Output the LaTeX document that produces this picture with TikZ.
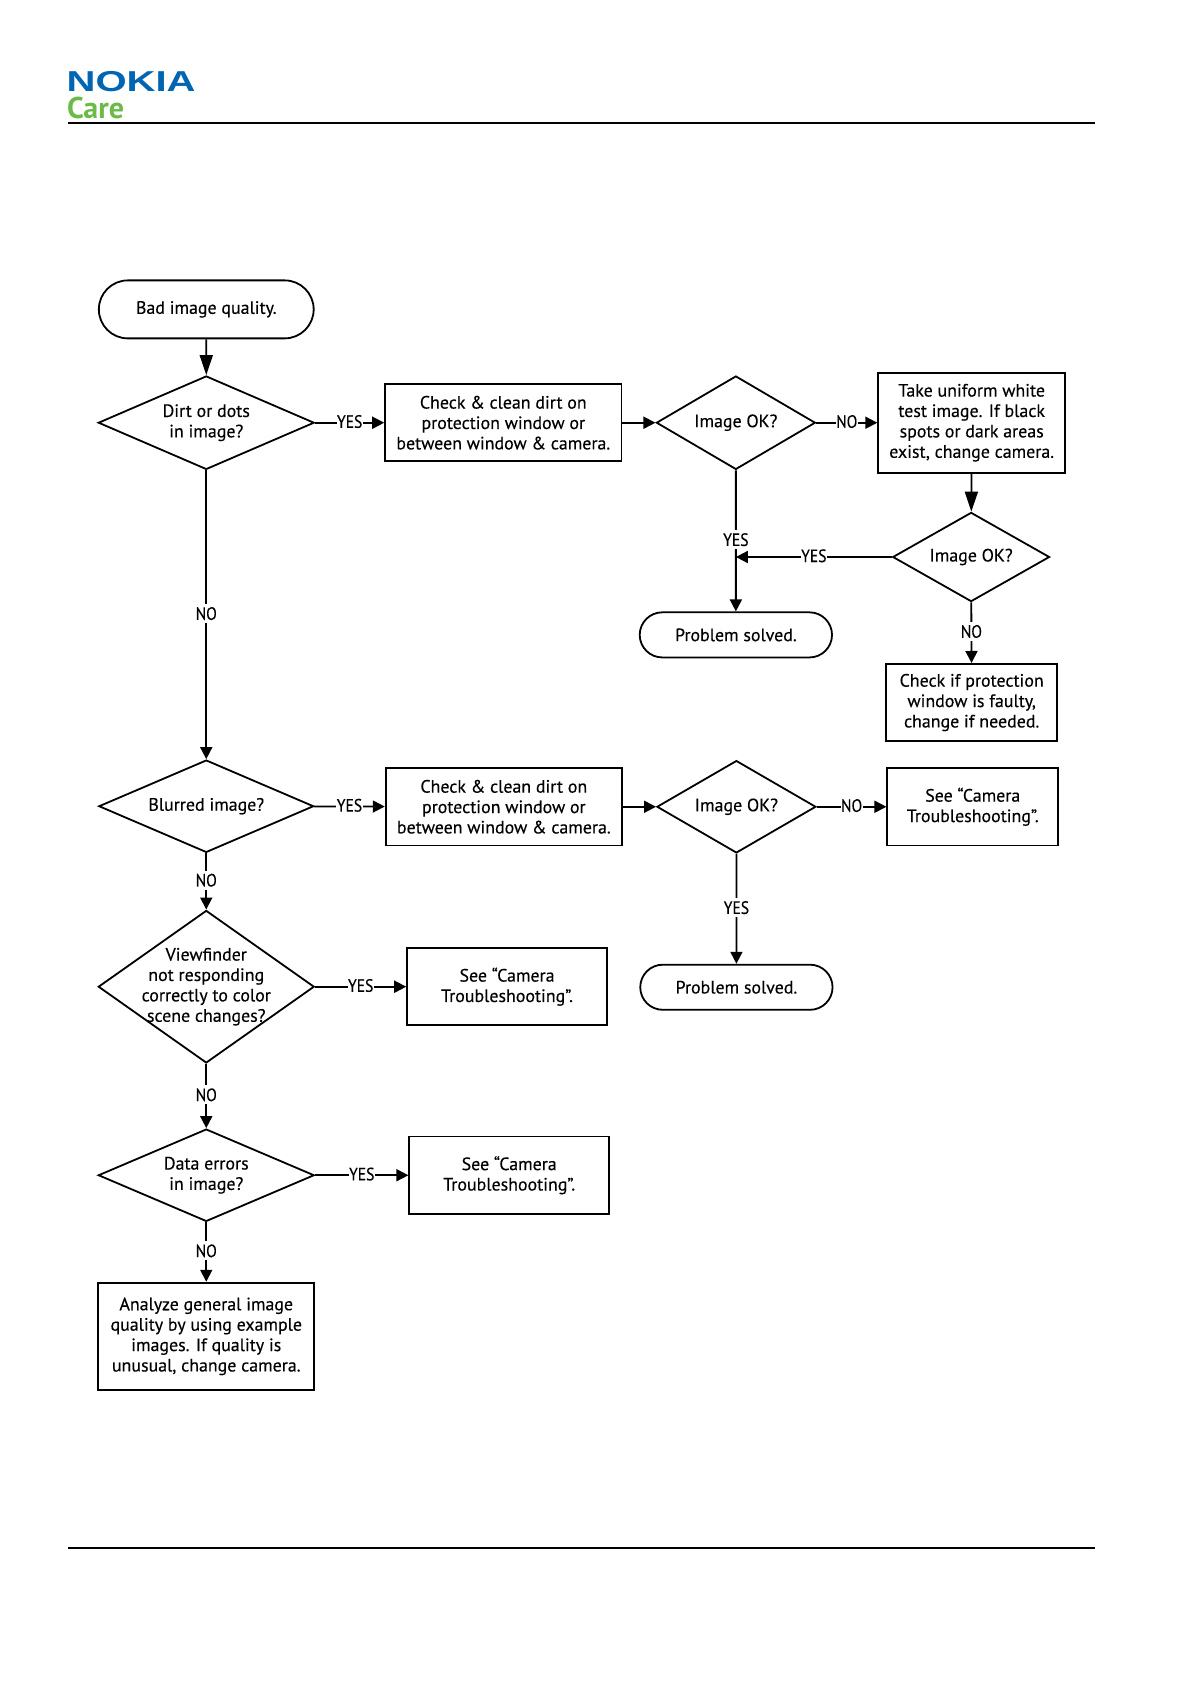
\documentclass[tikz,border=0pt]{standalone}
\usepackage{fontspec}
\setmainfont{PT Sans}[FakeBold=0.3]
\newfontfamily\logofont{Liberation Sans}
\newfontfamily\carefont{PT Sans}
\usetikzlibrary{arrows.meta,shapes.geometric,shapes.misc}
\definecolor{nokiablue}{RGB}{0,101,179}
\definecolor{caregreen}{RGB}{108,187,73}
\def\pxunit{0.5371pt}
\tikzstyle{flowtext}=[font=\fontsize{8.95}{10.2}\selectfont,align=center,inner sep=0pt]
\tikzstyle{terminal}=[flowtext,draw,line width=0.9pt,rounded rectangle]
\tikzstyle{decision}=[flowtext,draw,line width=0.9pt,diamond,inner sep=-8pt]
\tikzstyle{process}=[flowtext,draw,line width=0.9pt,rectangle]
\tikzstyle{edge}=[draw,line width=0.9pt,-{Triangle[length=6pt,width=6pt]}]
\tikzstyle{long edge}=[edge,-{Triangle[length=10pt,width=6.5pt]}]
\tikzstyle{answer}=[flowtext,fill=white,inner xsep=0.3pt,inner ysep=1.5pt,xscale=0.87,yshift=0.6pt]
\tikzstyle{rule}=[draw,line width=0.9pt]
\begin{document}
\begin{tikzpicture}[x=\pxunit,y=-\pxunit]
    \useasboundingbox (0,0) rectangle (1108.7,1567.6);
    % Header and footer
    \node[anchor=west,inner sep=0pt,text=nokiablue,xscale=1.39] (logo) at (61.5,75.5)
        {\logofont\bfseries\fontsize{14.4}{14.4}\selectfont NOKIA};
    \node[anchor=west,inner sep=0pt,text=caregreen] (care) at (62,100.5)
        {\carefont\bfseries\fontsize{15}{15}\selectfont Care};
    \coordinate (topleft) at (63,114.5);
    \coordinate (topright) at (1019,114.5);
    \coordinate (footleft) at (63,1441);
    \coordinate (footright) at (1019,1441);
    \path[rule] (topleft) -- (topright);
    \path[rule] (footleft) -- (footright);

    % First we draw the vertices
    \foreach \pos/\name/\w/\h/\txt in {
        {(192,288)/start/200/54/Bad image quality.},
        {(685,591)/solvedA/179/42/Problem solved.},
        {(685.5,919)/solvedB/179/42/Problem solved.}}
        \node[terminal,minimum width=\w*\pxunit,minimum height=\h*\pxunit] (\name) at \pos {\txt};

    \foreach \pos/\name/\w/\h/\txt in {
        {(192,393.5)/dirt/201/87/Dirt or dots\\in image?},
        {(685,393.5)/okA/148/87/Image OK?},
        {(904,518.5)/okB/146/83/Image OK?},
        {(192,750.5)/blurred/200/86/Blurred image?},
        {(685.5,751)/okC/148/86/Image OK?},
        {(192,918.5)/viewfinder/201/142/Viewfinder\\not responding\\correctly to color\\scene changes?},
        {(192,1094)/errors/201/86/Data errors\\in image?}}
        \node[decision,minimum width=\w*\pxunit,minimum height=\h*\pxunit] (\name) at \pos {\txt};

    \foreach \pos/\name/\w/\h/\txt in {
        {(468.5,393.5)/cleanA/220/72/Check \& clean dirt on\\protection window or\\between window \& camera.},
        {(904.5,393.5)/white/174/93/Take uniform white\\test image. If black\\spots or dark areas\\exist, change camera.},
        {(904.5,654)/faulty/159/72/Check if protection\\window is faulty,\\change if needed.},
        {(469,751)/cleanB/220/72/Check \& clean dirt on\\protection window or\\between window \& camera.},
        {(905.5,751)/seeA/159/72/See “Camera\\Troubleshooting”.},
        {(472,918.5)/seeB/186/72/See “Camera\\Troubleshooting”.},
        {(474,1094)/seeC/186/72/See “Camera\\Troubleshooting”.},
        {(192,1244)/analyze/201/100/Analyze general image\\quality by using example\\images. If quality is\\unusual, change camera.}}
        \node[process,minimum width=\w*\pxunit,minimum height=\h*\pxunit] (\name) at \pos {\txt};

    \coordinate (merge) at (685,518.5);

    % Connect vertices with edges
    \foreach \source/\dest in {start/dirt, white/okB}
        \path[long edge] (\source) -- (\dest);
    \foreach \source/\dest in {cleanA/okA, cleanB/okC}
        \path[edge] (\source) -- (\dest);
    \foreach \source/\dest/\answer in {dirt/cleanA/YES, dirt/blurred/NO, okA/white/NO, okA/solvedA/YES,
        okB/merge/YES, okB/faulty/NO, blurred/cleanB/YES, blurred/viewfinder/NO, okC/seeA/NO,
        okC/solvedB/YES, viewfinder/seeB/YES, viewfinder/errors/NO, errors/seeC/YES, errors/analyze/NO}
        \path[edge] (\source) -- node[answer] {\answer} (\dest);
\end{tikzpicture}
\end{document}
